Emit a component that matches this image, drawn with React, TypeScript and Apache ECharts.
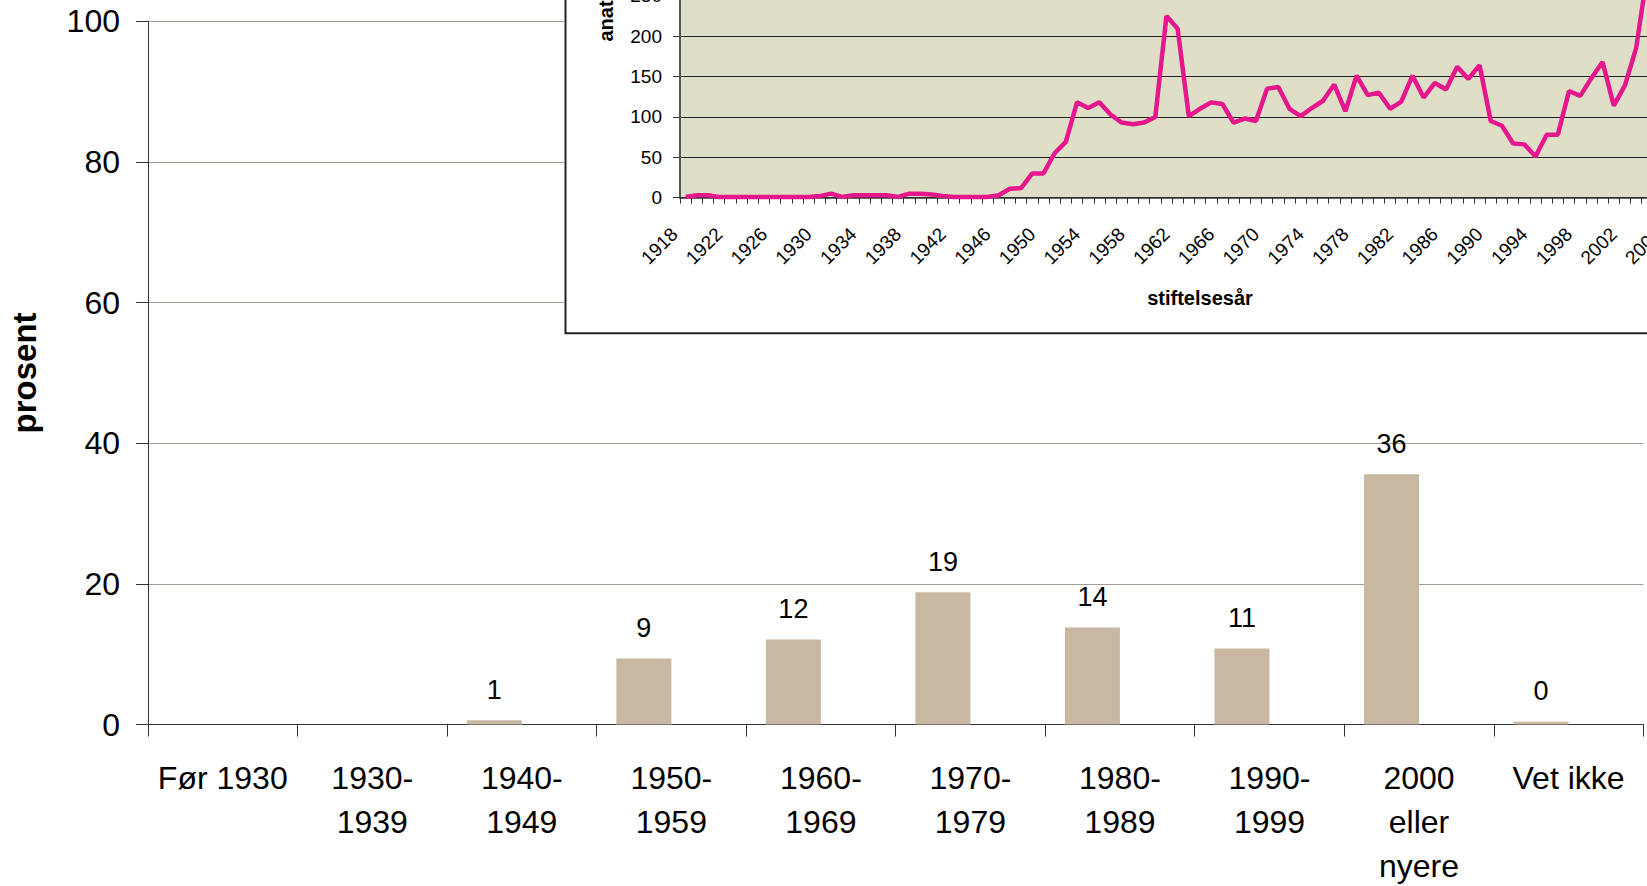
import React, { useEffect, useRef } from "react";
import * as echarts from "echarts";

const FONT = 'Arial, "Liberation Sans", sans-serif';

// Main chart: founding period (percent)
const periodCategories = [
  "Før 1930",
  "1930-\n1939",
  "1940-\n1949",
  "1950-\n1959",
  "1960-\n1969",
  "1970-\n1979",
  "1980-\n1989",
  "1990-\n1999",
  "2000\neller\nnyere",
  "Vet ikke",
];
const percentValues: (number | null)[] = [null, null, 0.6, 9.4, 12.1, 18.8, 13.8, 10.8, 35.6, 0.4];
const emptyValues: (number | null)[] = periodCategories.map(() => null);

// Inset chart: number per founding year
const firstYear = 1918;
const lastYear = 2010;
const foundingYears: string[] = [];
for (let y = firstYear; y <= lastYear; y++) foundingYears.push(String(y));
const foundingCounts: (number | null)[] = [
  1, 3, 3, 1, 1, 1, 1, 1, 1, 1, // 1918-1927
  1, 1, 2, 5, 1, 3, 3, 3, 3, 1, // 1928-1937
  5, 5, 4, 2, 1, 1, 1, 1, 3, 11, // 1938-1947
  12, 30, 30, 55, 69, 118, 111, 118, 103, 93, // 1948-1957
  91, 93, 100, 225, 209, 101, 110, 118, 116, 93, // 1958-1967
  98, 95, 135, 137, 110, 101, 111, 120, 140, 107, // 1968-1977
  151, 127, 130, 110, 119, 151, 124, 142, 134, 162, // 1978-1987
  147, 164, 95, 89, 67, 66, 51, 78, 78, 132, // 1988-1997
  126, 148, 168, 114, 139, 185, 278, // 1998-2004
];

export default function App() {
  const mainRef = useRef<HTMLDivElement>(null);
  const insetRef = useRef<HTMLDivElement>(null);

  useEffect(() => {
    const main = echarts.init(mainRef.current!, undefined, { renderer: "svg" });
    main.setOption({
      animation: false,
      textStyle: { fontFamily: FONT },
      grid: {
        left: 148,
        top: 21.3,
        right: 3.7,
        bottom: 161.5,
        containLabel: false,
        outerBoundsMode: "none",
      },
      xAxis: {
        type: "category",
        data: periodCategories,
        axisLine: { lineStyle: { color: "#333", width: 1 } },
        axisTick: { show: true, interval: 0, length: 12, lineStyle: { color: "#333" } },
        axisLabel: {
          interval: 0,
          fontSize: 32,
          lineHeight: 44,
          margin: 31,
          color: "#000",
          fontFamily: FONT,
        },
      },
      yAxis: {
        type: "value",
        min: 0,
        max: 100,
        interval: 20,
        name: "prosent",
        nameLocation: "middle",
        nameGap: 107,
        nameTextStyle: { fontSize: 33, fontWeight: "bold", color: "#000", fontFamily: FONT },
        axisLine: { show: true, lineStyle: { color: "#333", width: 1 } },
        axisTick: { show: true, length: 12, lineStyle: { color: "#333" } },
        axisLabel: { fontSize: 32, margin: 28, color: "#000", fontFamily: FONT },
        splitLine: { show: true, lineStyle: { color: "#A89A8C", width: 1 } },
      },
      series: [
        {
          type: "bar",
          data: percentValues,
          barWidth: 55,
          barGap: "0%",
          itemStyle: { color: "#C8B8A2" },
          label: {
            show: true,
            position: "top",
            distance: 17,
            fontSize: 27,
            color: "#000",
            fontFamily: FONT,
            formatter: (p: any) => (p.value == null ? "" : String(Math.round(p.value))),
          },
        },
        {
          type: "bar",
          data: emptyValues,
          barWidth: 55,
          barGap: "0%",
          itemStyle: { color: "#C8B8A2" },
        },
      ],
    });

    const inset = echarts.init(insetRef.current!, undefined, { renderer: "svg" });
    inset.setOption({
      animation: false,
      textStyle: { fontFamily: FONT },
      grid: {
        left: 116,
        top: 15.3,
        width: 1040,
        height: 242.4,
        show: true,
        backgroundColor: "#DFDFC8",
        borderWidth: 0,
        containLabel: false,
        outerBoundsMode: "none",
      },
      graphic: [
        {
          type: "rect",
          silent: true,
          shape: { x: 1.5, y: -10, width: 1400, height: 403.3 },
          style: { fill: "none", stroke: "#222", lineWidth: 2 },
        },
      ],
      xAxis: {
        type: "category",
        data: foundingYears,
        name: "stiftelsesår",
        nameLocation: "middle",
        nameGap: 90,
        nameTextStyle: { fontSize: 20, fontWeight: "bold", color: "#000", fontFamily: FONT },
        axisLine: { lineStyle: { color: "#333", width: 1.5 } },
        axisTick: { show: true, interval: 0, length: 6, lineStyle: { color: "#333" } },
        axisLabel: {
          interval: 3,
          rotate: 45,
          fontSize: 19,
          margin: 22,
          padding: [0, 16, 0, 0],
          color: "#000",
          fontFamily: FONT,
        },
      },
      yAxis: {
        type: "value",
        min: 0,
        max: 300,
        interval: 50,
        name: "anat",
        nameLocation: "middle",
        nameGap: 64,
        nameTextStyle: {
          fontSize: 20,
          fontWeight: "bold",
          color: "#000",
          fontFamily: FONT,
          padding: [0, 0, 0, 111],
        },
        axisLine: { show: true, lineStyle: { color: "#555", width: 2 } },
        axisTick: { show: true, length: 7, lineStyle: { color: "#333" } },
        axisLabel: { fontSize: 19, margin: 18, color: "#000", fontFamily: FONT },
        splitLine: { show: true, lineStyle: { color: "#222", width: 1 } },
      },
      series: [
        {
          type: "line",
          data: foundingCounts,
          symbol: "none",
          connectNulls: false,
          lineStyle: { color: "#E6178C", width: 4.5 },
          itemStyle: { color: "#E6178C" },
        },
      ],
    });

    return () => {
      main.dispose();
      inset.dispose();
    };
  }, []);

  return (
    <div
      style={{
        position: "fixed",
        left: 0,
        top: 0,
        width: 1647,
        height: 886,
        overflow: "hidden",
        background: "#fff",
      }}
    >
      <div ref={mainRef} style={{ position: "absolute", left: 0, top: 0, width: 1647, height: 886 }} />
      <div
        ref={insetRef}
        style={{
          position: "absolute",
          left: 564,
          top: -60,
          width: 1240,
          height: 396,
          background: "#fff",
        }}
      />
    </div>
  );
}
